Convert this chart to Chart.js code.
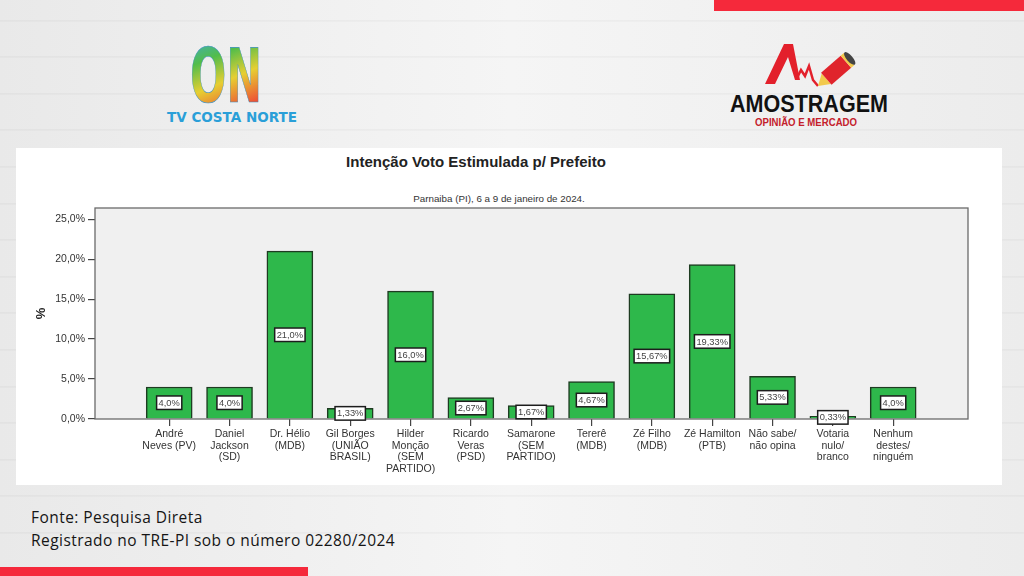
<!DOCTYPE html>
<html>
<head>
<meta charset="utf-8">
<script src="https://cdn.jsdelivr.net/npm/chart.js@4.4.1/dist/chart.umd.min.js"></script>
<style>
  html, body { margin: 0; padding: 0; }
  body {
    width: 1024px; height: 576px; position: relative; overflow: hidden;
    background-image:
      repeating-linear-gradient(to bottom, rgba(0,0,0,0) 0px, rgba(0,0,0,0) 35.6px, rgba(0,0,0,0.05) 35.6px, rgba(0,0,0,0.05) 36.6px),
      linear-gradient(to right, #e9e9e9, #f5f5f5 50%, #ececec);
    background-position: 0 -15.6px, 0 0;
    font-family: "Liberation Sans", Arial, sans-serif;
  }
  .deco { position: absolute; left: 0; top: 0; }
  #panel { position: absolute; left: 16px; top: 148px; width: 986px; height: 337px; background: #fff; }
  #chartBox { position: absolute; left: 16px; top: 148px; width: 986px; height: 337px; }
  .title { position: absolute; left: 476px; top: 153px; transform: translateX(-50%);
    font-size: 15px; font-weight: bold; color: #222; white-space: nowrap; }
  .subtitle { position: absolute; left: 499px; top: 193px; transform: translateX(-50%);
    font-size: 9.8px; color: #333; white-space: nowrap; }
  .foot { position: absolute; left: 31px; font-family: "Open Sans", sans-serif; font-size: 15.5px;
    letter-spacing: 0.45px; color: #151515; white-space: nowrap; }
</style>
</head>
<body>
<svg class="deco" width="1024" height="576">
  <defs>
    <linearGradient id="rainbow" x1="0" y1="0" x2="0.35" y2="1">
      <stop offset="0" stop-color="#3aa8e6"/>
      <stop offset="0.35" stop-color="#52bd4a"/>
      <stop offset="0.65" stop-color="#e6cf32"/>
      <stop offset="1" stop-color="#ee4e34"/>
    </linearGradient>
  </defs>
  <rect x="714" y="0" width="310" height="11" fill="#f5293b"/>
  <rect x="0" y="567" width="308" height="9" fill="#f5293b"/>
  <!-- TV Costa Norte -->
  <text x="190" y="102" font-family="DejaVu Sans" font-weight="bold" font-size="74" textLength="72" lengthAdjust="spacingAndGlyphs" fill="url(#rainbow)" stroke="#3d8fc0" stroke-width="0.6">ON</text>
  <text x="167" y="122" font-family="DejaVu Sans" font-weight="bold" font-size="14" textLength="130" lengthAdjust="spacingAndGlyphs" fill="#2a9fd8">TV COSTA NORTE</text>
  <!-- Amostragem -->
  <polygon points="765,84 784,44 793,44 800,80 795,80 788,57 775,84" fill="#e3202b"/>
  <polyline points="797,78 801,70 805,76 809,66 813,80 818,86" fill="none" stroke="#e3202b" stroke-width="2.5"/>
  <g transform="translate(818,86) rotate(-41)">
    <polygon points="0,0 11,-7 11,7" fill="#f2c94c"/>
    <rect x="11" y="-8" width="26" height="16" fill="#e0242c"/>
    <rect x="37" y="-8" width="4" height="16" fill="#f2c94c"/>
    <ellipse cx="42" cy="0" rx="3" ry="8" fill="#444"/>
  </g>
  <text x="730" y="112" font-family="Liberation Sans" font-weight="bold" font-size="24" textLength="158" lengthAdjust="spacingAndGlyphs" fill="#111">AMOSTRAGEM</text>
  <text x="755" y="126" font-family="Liberation Sans" font-weight="bold" font-size="10.5" textLength="102" lengthAdjust="spacingAndGlyphs" fill="#c4202b">OPINIÃO E MERCADO</text>
</svg>

<div id="panel"></div>
<div class="title">Intenção Voto Estimulada p/ Prefeito</div>
<div class="subtitle">Parnaiba (PI), 6 a 9 de janeiro de 2024.</div>
<div id="chartBox"><canvas id="voteChart" width="986" height="337"></canvas></div>

<div class="foot" style="top:506px">Fonte: Pesquisa Direta</div>
<div class="foot" style="top:529px">Registrado no TRE-PI sob o número 02280/2024</div>

<script>
// candidates, in the order of the survey chart
var categories = [
    ['André', 'Neves (PV)'],
    ['Daniel', 'Jackson', '(SD)'],
    ['Dr. Hélio', '(MDB)'],
    ['Gil Borges', '(UNIÃO', 'BRASIL)'],
    ['Hilder', 'Monção', '(SEM', 'PARTIDO)'],
    ['Ricardo', 'Veras', '(PSD)'],
    ['Samarone', '(SEM', 'PARTIDO)'],
    ['Tererê', '(MDB)'],
    ['Zé Filho', '(MDB)'],
    ['Zé Hamilton', '(PTB)'],
    ['Não sabe/', 'não opina'],
    ['Votaria', 'nulo/', 'branco'],
    ['Nenhum', 'destes/', 'ninguém']
];
var values = [4.0, 4.0, 21.0, 1.33, 16.0, 2.67, 1.67, 4.67, 15.67, 19.33, 5.33, 0.33, 4.0];
var yTicks = [0, 5, 10, 15, 20, 25];

var fontFamily = '"Liberation Sans", Arial, sans-serif';

function pct(v) {
    var s = Number.isInteger(v) ? v.toFixed(1) : v.toFixed(2);
    return s.replace('.', ',') + '%';
}

// grey plot background, frame and the boxed value labels
var plotFrame = {
    id: 'plotFrame',
    beforeDraw: function (chart) {
        var a = chart.chartArea, ctx = chart.ctx;
        ctx.save();
        ctx.fillStyle = '#f0f0f0';
        ctx.fillRect(a.left, a.top, a.right - a.left, a.bottom - a.top);
        ctx.restore();
    },
    afterDatasetsDraw: function (chart) {
        var a = chart.chartArea, ctx = chart.ctx;
        ctx.save();
        ctx.strokeStyle = '#6a6a6a';
        ctx.lineWidth = 1.3;
        ctx.strokeRect(a.left, a.top, a.right - a.left, a.bottom - a.top);

        ctx.font = '9.3px ' + fontFamily;
        ctx.textAlign = 'center';
        ctx.textBaseline = 'middle';
        chart.getDatasetMeta(0).data.forEach(function (bar, i) {
            var text = pct(values[i]);
            var w = ctx.measureText(text).width + 4;
            var h = 13.5;
            var cy = (bar.y + bar.base) / 2;
            ctx.fillStyle = '#fff';
            ctx.fillRect(bar.x - w / 2, cy - h / 2, w, h);
            ctx.strokeStyle = '#1d1d1d';
            ctx.lineWidth = 1.5;
            ctx.strokeRect(bar.x - w / 2, cy - h / 2, w, h);
            ctx.fillStyle = '#444';
            ctx.fillText(text, bar.x, cy + 0.5);
        });
        ctx.restore();
    }
};

var ctx = document.getElementById('voteChart');
var voteChart = new Chart(ctx, {
    type: 'bar',
    data: {
        datasets: [{
            data: values.map(function (v, i) { return { x: i, y: v }; }),
            backgroundColor: '#2eb84b',
            borderColor: '#1e3b21',
            borderWidth: 1.5,
            barThickness: 46
        }]
    },
    options: {
        responsive: false,
        maintainAspectRatio: false,
        animation: false,
        layout: { padding: { left: 0, right: 34, top: 60, bottom: 0 } },
        plugins: {
            legend: { display: false },
            tooltip: { enabled: false }
        },
        scales: {
            x: {
                type: 'linear',
                offset: false,
                min: -1.23,
                max: 13.24,
                afterBuildTicks: function (scale) {
                    scale.ticks = categories.map(function (c, i) { return { value: i }; });
                },
                afterFit: function (scale) { scale.height = 66; },
                grid: { offset: false, drawOnChartArea: false, tickLength: 7, color: '#444', lineWidth: 1.2 },
                border: { display: false },
                ticks: {
                    autoSkip: false,
                    maxRotation: 0,
                    minRotation: 0,
                    padding: 2,
                    color: '#333',
                    font: { family: fontFamily, size: 10.5, lineHeight: 1.12 },
                    callback: function (v) { return categories[v]; }
                }
            },
            y: {
                min: 0,
                max: 26.4,
                afterBuildTicks: function (scale) {
                    scale.ticks = yTicks.map(function (v) { return { value: v }; });
                },
                afterFit: function (scale) { scale.width = 79; },
                grid: { drawOnChartArea: false, tickLength: 7, color: '#444', lineWidth: 1.2 },
                border: { display: false },
                ticks: {
                    padding: 3,
                    color: '#333',
                    font: { family: fontFamily, size: 10.5 },
                    callback: function (v) { return v.toFixed(1).replace('.', ',') + '%'; }
                },
                title: {
                    display: true,
                    text: '%',
                    color: '#222',
                    font: { family: fontFamily, size: 13, weight: 'bold' },
                    padding: { top: 18, bottom: 0 }
                }
            }
        }
    },
    plugins: [plotFrame]
});
</script>
</body>
</html>
